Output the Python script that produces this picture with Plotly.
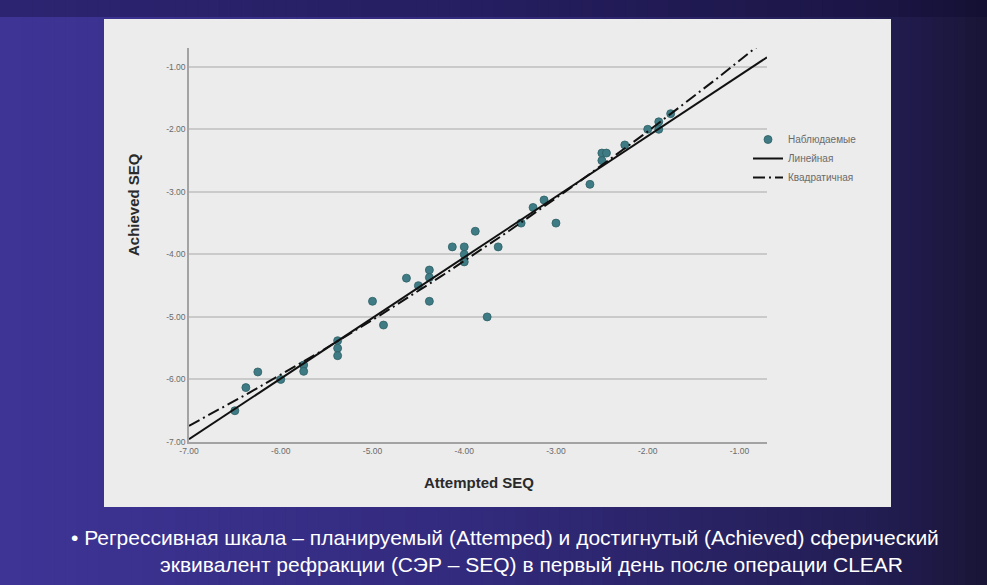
import numpy as np
import plotly.graph_objects as go

# Attempted vs achieved spherical equivalent (dioptres), day 1 after CLEAR
attempted = [-6.50, -6.38, -6.25, -6.00, -5.75, -5.75, -5.38, -5.38, -5.38,
             -5.00, -4.88, -4.63, -4.50, -4.38, -4.38, -4.38, -4.13, -4.00,
             -4.00, -4.00, -3.88, -3.75, -3.63, -3.38, -3.25, -3.13, -3.00,
             -2.63, -2.50, -2.50, -2.45, -2.25, -2.00, -1.88, -1.88, -1.75]
achieved = [-6.50, -6.13, -5.88, -6.00, -5.77, -5.87, -5.38, -5.50, -5.62,
            -4.75, -5.13, -4.38, -4.50, -4.25, -4.37, -4.75, -3.88, -3.88,
            -4.00, -4.12, -3.63, -5.00, -3.88, -3.50, -3.25, -3.13, -3.50,
            -2.88, -2.38, -2.50, -2.38, -2.25, -2.00, -1.88, -2.00, -1.75]

tick_vals = [-7, -6, -5, -4, -3, -2, -1]
tick_text = ["-7.00", "-6.00", "-5.00", "-4.00", "-3.00", "-2.00", "-1.00"]
axis_range = [-7.0, -0.7]

series_names = ["Наблюдаемые", "Линейная", "Квадратичная"]
x_title = "Attempted SEQ"
y_title = "Achieved SEQ"
caption_lines = [
    "• Регрессивная шкала – планируемый (Attemped) и достигнутый (Achieved) сферический",
    "эквивалент рефракции (СЭР – SEQ) в первый день после операции CLEAR",
]

W, H = 987, 585
L, R, T, B = 189, 767, 48, 442          # plot area in pixels


def px_x(p):
    return (p - L) / (R - L)


def px_y(p):
    return (B - p) / (B - T)


# least-squares fits drawn across the whole axis span
lin = np.polyfit(attempted, achieved, 1)
quad = np.polyfit(attempted, achieved, 2)
xs = np.linspace(axis_range[0], axis_range[1], 200)

fig = go.Figure()
fig.add_trace(go.Scatter(
    x=attempted, y=achieved, mode="markers", name=series_names[0],
    marker=dict(size=8, color="#3f7b84", line=dict(width=0.8, color="#2d5f66")),
))
fig.add_trace(go.Scatter(
    x=xs, y=np.polyval(lin, xs), mode="lines", name=series_names[1],
    line=dict(color="#111111", width=2),
))
fig.add_trace(go.Scatter(
    x=xs, y=np.polyval(quad, xs), mode="lines", name=series_names[2],
    line=dict(color="#111111", width=2, dash="12px,4px,2px,4px"),
))

# slide background: horizontal purple-to-navy gradient made of thin strips
def lerp(c1, c2, t):
    return tuple(int(round(a + (b - a) * t)) for a, b in zip(c1, c2))

stops = [(0, (62, 52, 150)), (480, (50, 42, 124)), (880, (34, 29, 82)), (987, (24, 21, 54))]
shapes = []
n = 90
for i in range(n):
    x0 = W * i / n
    x1 = W * (i + 1) / n + 0.6
    xm = (x0 + x1) / 2
    for (a, ca), (b, cb) in zip(stops[:-1], stops[1:]):
        if a <= xm <= b:
            c = lerp(ca, cb, (xm - a) / (b - a))
            break
    shapes.append(dict(type="rect", xref="paper", yref="paper",
                       x0=px_x(x0), x1=px_x(x1), y0=px_y(H), y1=px_y(0),
                       fillcolor="rgb(%d,%d,%d)" % c, line=dict(width=0), layer="below"))
# darker band along the top edge
shapes.append(dict(type="rect", xref="paper", yref="paper",
                   x0=px_x(0), x1=px_x(W), y0=px_y(17), y1=px_y(0),
                   fillcolor="rgba(15,8,45,0.35)", line=dict(width=0), layer="below"))
# light chart panel
shapes.append(dict(type="rect", xref="paper", yref="paper",
                   x0=px_x(104), x1=px_x(891), y0=px_y(507), y1=px_y(19),
                   fillcolor="#ececec", line=dict(width=0), layer="below"))

title_font = dict(family="Liberation Sans", size=15, color="#2a2a2a")
caption_font = dict(family="Liberation Sans", size=21, color="#ffffff")
annotations = [
    dict(text="<b>%s</b>" % x_title, xref="paper", yref="paper", x=px_x(479), y=px_y(483),
         showarrow=False, font=title_font, xanchor="center", yanchor="middle"),
    dict(text="<b>%s</b>" % y_title, xref="paper", yref="paper", x=px_x(133), y=px_y(205),
         showarrow=False, textangle=-90, font=title_font,
         xanchor="center", yanchor="middle"),
    dict(text=caption_lines[0], xref="paper", yref="paper", x=px_x(505), y=px_y(537),
         showarrow=False, font=caption_font, xanchor="center", yanchor="middle"),
    dict(text=caption_lines[1], xref="paper", yref="paper", x=px_x(531), y=px_y(564),
         showarrow=False, font=caption_font, xanchor="center", yanchor="middle"),
]

tick_font = dict(family="Liberation Sans", size=8.5, color="#6a6a6a")
fig.update_layout(
    width=W, height=H,
    margin=dict(l=L, r=W - R, t=T, b=H - B, pad=0),
    paper_bgcolor="#2e2878", plot_bgcolor="#ececec",
    shapes=shapes, annotations=annotations,
    showlegend=True,
    legend=dict(x=px_x(748), y=px_y(125), xanchor="left", yanchor="top",
                bgcolor="rgba(0,0,0,0)",
                font=dict(family="Liberation Sans", size=10, color="#6a6a6a"),
                itemwidth=30, tracegroupgap=0),
    xaxis=dict(range=axis_range, tickvals=tick_vals, ticktext=tick_text, showgrid=False,
               zeroline=False, showline=True, linecolor="#a3a3a3", linewidth=1.5,
               ticks="", tickfont=tick_font),
    yaxis=dict(range=axis_range, tickvals=tick_vals, ticktext=tick_text, showgrid=True,
               gridcolor="#cacaca", gridwidth=1.5, zeroline=False, showline=True,
               linecolor="#a3a3a3", linewidth=1.5, ticks="", tickfont=tick_font),
)

fig.write_html("out.html")
